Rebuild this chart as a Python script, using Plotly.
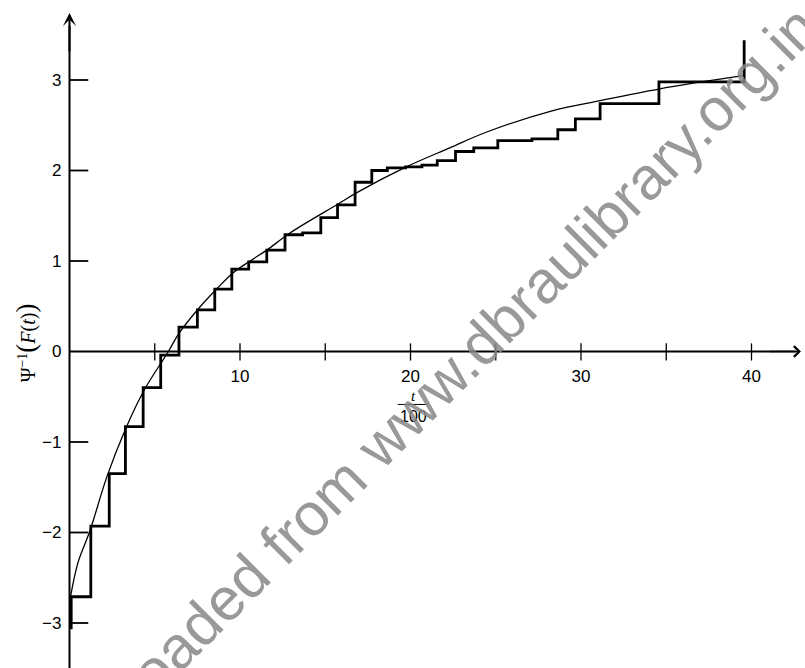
import plotly.graph_objects as go

# Empirical step function: start of each level (t/100) and the level value
step_t = [0.1, 0.1, 1.25, 2.33, 3.28, 4.32, 5.35, 6.42, 7.5, 8.52, 9.52, 10.51,
          11.57, 12.64, 13.67, 14.74, 15.72, 16.75, 17.73, 18.64, 19.71, 20.67,
          21.57, 22.64, 23.71, 25.12, 27.12, 28.64, 29.67, 31.12, 34.57, 39.57]
step_y = [-3.07, -2.71, -1.93, -1.35, -0.83, -0.40, -0.04, 0.27, 0.46, 0.69,
          0.91, 0.99, 1.12, 1.29, 1.31, 1.48, 1.62, 1.87, 2.00, 2.03, 2.04, 2.06,
          2.11, 2.21, 2.25, 2.33, 2.35, 2.45, 2.57, 2.74, 2.98, 3.44]

# Fitted curve
curve_t = [0.05, 0.5, 1.2, 2.2, 3.3, 4.4, 5.8, 6.42, 7.55, 8.63, 9.6, 10.59,
           11.57, 12.93, 15.75, 16.8, 19.75, 22.3, 24.4, 28.3, 31.05, 34.56, 39.6]
curve_y = [-2.72, -2.33, -1.98, -1.38, -0.85, -0.42, 0.0, 0.2, 0.47, 0.69,
           0.87, 1.0, 1.12, 1.31, 1.63, 1.75, 2.04, 2.25, 2.42, 2.66, 2.77, 2.90, 3.05]

x_minor_ticks = [5, 10, 15, 20, 25, 30, 35, 40]
x_tick_vals = [10, 20, 30, 40]
x_tick_text = ["10", "20", "30", "40"]
y_tick_vals = [-3, -2, -1, 0, 1, 2, 3]
y_tick_text = ["\u22123", "\u22122", "\u22121", "0", "1", "2", "3"]

W, H = 805, 668
X0_PX, X_SCALE = 69.5, 17.05
Y0_PX, Y_SCALE = 351.5, 90.5
x_range = [-X0_PX / X_SCALE, (W - X0_PX) / X_SCALE]
y_range = [(Y0_PX - H) / Y_SCALE, Y0_PX / Y_SCALE]

fig = go.Figure()
fig.add_trace(go.Scatter(x=step_t, y=step_y, mode="lines", line_shape="hv",
                         line=dict(color="black", width=2.8), hoverinfo="skip"))
fig.add_trace(go.Scatter(x=curve_t, y=curve_y, mode="lines", line_shape="spline",
                         line=dict(color="black", width=1.3), hoverinfo="skip"))

shapes = []
# axes through the origin
shapes.append(dict(type="line", x0=0, y0=0, x1=42.6, y1=0, xref="x", yref="y",
                   line=dict(color="black", width=2)))
shapes.append(dict(type="line", x0=0, y0=y_range[0], x1=0, y1=3.6, xref="x", yref="y",
                   line=dict(color="black", width=2)))
# x tick marks crossing the axis
for v in x_minor_ticks:
    shapes.append(dict(type="line", x0=v, y0=-0.1, x1=v, y1=0.09, xref="x", yref="y",
                       line=dict(color="black", width=1.3)))
# y tick marks on the right of the axis
for v in y_tick_vals:
    if v != 0:
        shapes.append(dict(type="line", x0=0, y0=v, x1=1.1, y1=v, xref="x", yref="y",
                           line=dict(color="black", width=1.8)))
# fraction bar of t/100
shapes.append(dict(type="line", x0=19.25, y0=-0.585, x1=21.0, y1=-0.585, xref="x", yref="y",
                   line=dict(color="black", width=1)))

annotations = [
    # arrow heads
    dict(x=42.9, y=0, ax=41.0, ay=0, xref="x", yref="y", axref="x", ayref="y",
         showarrow=True, arrowhead=4, arrowsize=1.3, arrowwidth=1.6, arrowcolor="black", text=""),
    dict(x=0, y=3.74, ax=0, ay=3.3, xref="x", yref="y", axref="x", ayref="y",
         showarrow=True, arrowhead=3, arrowsize=1.1, arrowwidth=2, arrowcolor="black", text=""),
    # axis titles
    dict(x=-2.5, y=0.1, xref="x", yref="y", showarrow=False, textangle=-90,
         text="\u03a8<sup>\u22121</sup><span style='font-size:27px'>(</span><i>F</i>(<i>t</i>)<span style='font-size:27px'>)</span>",
         font=dict(family="Liberation Serif", size=20, color="black")),
    dict(x=20.15, y=-0.49, xref="x", yref="y", showarrow=False, text="<i>t</i>",
         font=dict(family="Liberation Serif", size=15, color="black")),
    dict(x=20.15, y=-0.72, xref="x", yref="y", showarrow=False, text="100",
         font=dict(family="Liberation Sans", size=16, color="black")),
    # watermark
    dict(x=20.32, y=-0.635, xref="x", yref="y", showarrow=False, textangle=-45,
         text="Downloaded from www.dbraulibrary.org.in",
         font=dict(family="Liberation Sans", size=60, color="rgba(135,135,135,0.85)")),
]

fig.update_layout(
    width=W, height=H,
    margin=dict(l=0, r=0, t=0, b=0),
    paper_bgcolor="white", plot_bgcolor="white",
    showlegend=False,
    shapes=shapes, annotations=annotations,
    xaxis=dict(range=x_range, domain=[0, 1], anchor="free", position=(H - Y0_PX) / H,
               showgrid=False, zeroline=False, showline=False, ticks="",
               tickvals=x_tick_vals, ticktext=x_tick_text, ticklabelstandoff=12,
               tickfont=dict(family="Liberation Sans", size=17, color="black"),
               fixedrange=True),
    yaxis=dict(range=y_range, domain=[0, 1], anchor="free", position=X0_PX / W,
               showgrid=False, zeroline=False, showline=False, ticks="",
               tickvals=y_tick_vals, ticktext=y_tick_text, ticklabelstandoff=8,
               tickfont=dict(family="Liberation Sans", size=17, color="black"),
               fixedrange=True),
)

fig.write_html("out.html")
